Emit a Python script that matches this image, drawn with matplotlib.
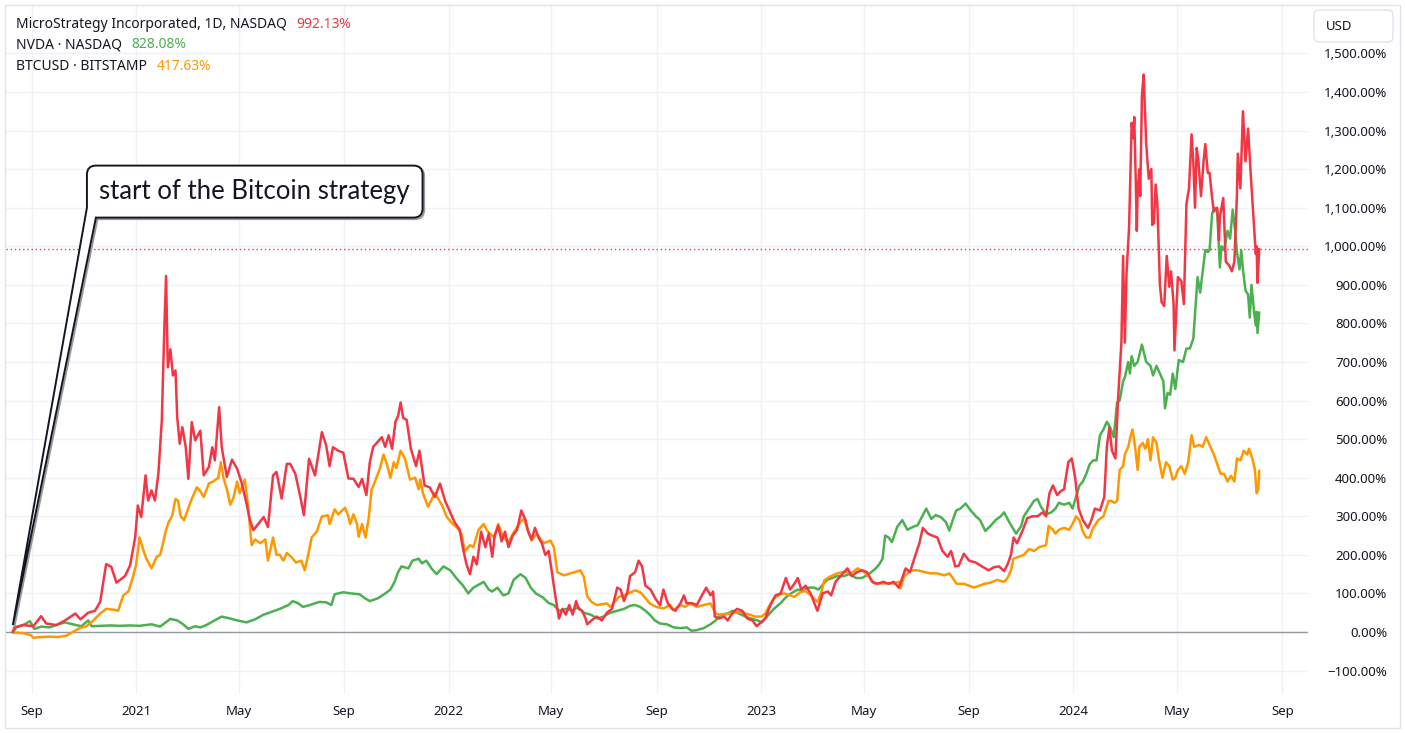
import matplotlib
matplotlib.use("Agg")
import matplotlib.pyplot as plt
import matplotlib.dates as mdates
from matplotlib.path import Path
from matplotlib.patches import PathPatch, FancyBboxPatch, Rectangle
from matplotlib.transforms import IdentityTransform
import pandas as pd

# ---- data (percent change since 2020-08-10) ----
mstr_dates = [
    "2020-08-10", "2020-08-12", "2020-08-22", "2020-09-03", "2020-09-12", "2020-09-18", "2020-09-30",
    "2020-10-10", "2020-10-22", "2020-10-28", "2020-11-06", "2020-11-14", "2020-11-20", "2020-11-27",
    "2020-12-03", "2020-12-09", "2020-12-19", "2020-12-25", "2020-12-31", "2021-01-03", "2021-01-07",
    "2021-01-12", "2021-01-15", "2021-01-19", "2021-01-23", "2021-01-27", "2021-01-31", "2021-02-03",
    "2021-02-05", "2021-02-07", "2021-02-10", "2021-02-13", "2021-02-16", "2021-02-18", "2021-02-21",
    "2021-02-24", "2021-02-28", "2021-03-03", "2021-03-07", "2021-03-11", "2021-03-17", "2021-03-21",
    "2021-03-27", "2021-03-31", "2021-04-03", "2021-04-08", "2021-04-11", "2021-04-17", "2021-04-23",
    "2021-04-29", "2021-05-04", "2021-05-10", "2021-05-14", "2021-05-18", "2021-05-24", "2021-05-30",
    "2021-06-04", "2021-06-10", "2021-06-14", "2021-06-20", "2021-06-26", "2021-06-30", "2021-07-06",
    "2021-07-11", "2021-07-16", "2021-07-22", "2021-07-29", "2021-08-06", "2021-08-11", "2021-08-15",
    "2021-08-19", "2021-08-25", "2021-08-31", "2021-09-06", "2021-09-12", "2021-09-18", "2021-09-22",
    "2021-09-27", "2021-10-01", "2021-10-05", "2021-10-09", "2021-10-15", "2021-10-19", "2021-10-23",
    "2021-10-27", "2021-10-31", "2021-11-03", "2021-11-06", "2021-11-09", "2021-11-13", "2021-11-18",
    "2021-11-24", "2021-11-28", "2021-12-04", "2021-12-10", "2021-12-16", "2021-12-22", "2021-12-28",
    "2022-01-03", "2022-01-08", "2022-01-14", "2022-01-18", "2022-01-22", "2022-01-26", "2022-01-30",
    "2022-02-03", "2022-02-08", "2022-02-13", "2022-02-17", "2022-02-21", "2022-02-24", "2022-02-28",
    "2022-03-04", "2022-03-08", "2022-03-12", "2022-03-17", "2022-03-22", "2022-03-27", "2022-04-01",
    "2022-04-04", "2022-04-08", "2022-04-12", "2022-04-16", "2022-04-20", "2022-04-24", "2022-04-28",
    "2022-05-02", "2022-05-06", "2022-05-10", "2022-05-14", "2022-05-18", "2022-05-22", "2022-05-26",
    "2022-05-30", "2022-06-02", "2022-06-06", "2022-06-10", "2022-06-12", "2022-06-17", "2022-06-23",
    "2022-06-29", "2022-07-05", "2022-07-11", "2022-07-17", "2022-07-21", "2022-07-25", "2022-07-29",
    "2022-08-01", "2022-08-07", "2022-08-11", "2022-08-15", "2022-08-19", "2022-08-25", "2022-08-31",
    "2022-09-05", "2022-09-09", "2022-09-14", "2022-09-19", "2022-09-23", "2022-09-29", "2022-10-03",
    "2022-10-06", "2022-10-12", "2022-10-18", "2022-10-24", "2022-10-29", "2022-11-03", "2022-11-06",
    "2022-11-08", "2022-11-13", "2022-11-19", "2022-11-23", "2022-11-29", "2022-12-04", "2022-12-10",
    "2022-12-16", "2022-12-22", "2022-12-27", "2023-01-01", "2023-01-06", "2023-01-12", "2023-01-18",
    "2023-01-24", "2023-01-30", "2023-02-04", "2023-02-09", "2023-02-13", "2023-02-17", "2023-02-22",
    "2023-02-28", "2023-03-06", "2023-03-08", "2023-03-14", "2023-03-20", "2023-03-24", "2023-03-29",
    "2023-04-04", "2023-04-12", "2023-04-17", "2023-04-23", "2023-04-29", "2023-05-05", "2023-05-11",
    "2023-05-17", "2023-05-24", "2023-05-30", "2023-06-05", "2023-06-11", "2023-06-15", "2023-06-19",
    "2023-06-24", "2023-06-29", "2023-07-05", "2023-07-09", "2023-07-15", "2023-07-20", "2023-07-26",
    "2023-08-01", "2023-08-07", "2023-08-11", "2023-08-16", "2023-08-20", "2023-08-26", "2023-09-01",
    "2023-09-09", "2023-09-16", "2023-09-24", "2023-09-30", "2023-10-06", "2023-10-12", "2023-10-16",
    "2023-10-20", "2023-10-23", "2023-10-27", "2023-11-03", "2023-11-08", "2023-11-14", "2023-11-20",
    "2023-11-26", "2023-11-30", "2023-12-04", "2023-12-08", "2023-12-13", "2023-12-17", "2023-12-21",
    "2023-12-26", "2023-12-30", "2024-01-03", "2024-01-07", "2024-01-12", "2024-01-18", "2024-01-22",
    "2024-01-26", "2024-02-01", "2024-02-06", "2024-02-09", "2024-02-12", "2024-02-15", "2024-02-19",
    "2024-02-22", "2024-02-26", "2024-02-28", "2024-03-01", "2024-03-03", "2024-03-06", "2024-03-09",
    "2024-03-11", "2024-03-12", "2024-03-14", "2024-03-15", "2024-03-16", "2024-03-18", "2024-03-19",
    "2024-03-21", "2024-03-23", "2024-03-26", "2024-03-29", "2024-04-01", "2024-04-02", "2024-04-04",
    "2024-04-06", "2024-04-08", "2024-04-11", "2024-04-13", "2024-04-16", "2024-04-19", "2024-04-22",
    "2024-04-24", "2024-04-27", "2024-04-28", "2024-05-02", "2024-05-06", "2024-05-09", "2024-05-12",
    "2024-05-15", "2024-05-18", "2024-05-20", "2024-05-22", "2024-05-24", "2024-05-26", "2024-05-29",
    "2024-06-01", "2024-06-03", "2024-06-06", "2024-06-08", "2024-06-11", "2024-06-13", "2024-06-17",
    "2024-06-19", "2024-06-20", "2024-06-24", "2024-06-27", "2024-07-01", "2024-07-04", "2024-07-07",
    "2024-07-10", "2024-07-11", "2024-07-14", "2024-07-17", "2024-07-20", "2024-07-23", "2024-07-26",
    "2024-07-30", "2024-08-01", "2024-08-02", "2024-08-03", "2024-08-05",
]
mstr_vals = [
    0, 12, 18, 15, 41, 22, 18,
    30, 48, 33, 50, 55, 78, 176,
    169, 128, 145, 173, 247, 328, 298,
    406, 341, 367, 341, 410, 548, 790,
    923, 686, 733, 665, 678, 557, 488,
    531, 479, 397, 544, 497, 522, 406,
    428, 479, 445, 583, 479, 402, 447,
    423, 389, 333, 290, 264, 281, 298,
    272, 406, 415, 346, 436, 436, 410,
    359, 303, 449, 406, 518, 484, 430,
    479, 470, 465, 398, 397, 376, 397,
    355, 440, 480, 490, 505, 480, 510,
    475, 545, 560, 595, 555, 550, 475,
    430, 470, 380, 375, 350, 385, 340,
    310, 285, 265, 215, 175, 150, 195,
    175, 260, 220, 255, 195, 250, 275,
    235, 260, 220, 250, 265, 315, 290,
    260, 240, 270, 245, 230, 200, 210,
    150, 90, 35, 60, 45, 70, 45,
    80, 60, 55, 35, 20, 30, 40,
    30, 50, 60, 115, 110, 80, 105,
    145, 155, 185, 170, 120, 110, 85,
    70, 110, 75, 60, 55, 75, 95,
    75, 75, 70, 95, 115, 95, 105,
    40, 35, 40, 30, 50, 60, 55,
    35, 30, 15, 25, 35, 70, 95,
    100, 140, 110, 125, 140, 110, 120,
    100, 65, 55, 100, 105, 95, 130,
    145, 165, 145, 155, 160, 155, 130,
    125, 130, 125, 130, 115, 140, 165,
    155, 190, 230, 270, 255, 250, 245,
    210, 195, 210, 170, 172, 203, 185,
    180, 170, 160, 168, 170, 158, 175,
    200, 245, 230, 265, 295, 300, 300,
    310, 300, 360, 380, 355, 365, 370,
    440, 450, 400, 320, 290, 270, 290,
    320, 315, 350, 480, 530, 470, 450,
    600, 750, 975, 750, 930, 1050, 1320,
    1280, 1335, 1150, 1040, 1140, 1200, 1130,
    1390, 1445, 1265, 1175, 1200, 1055, 1060,
    1160, 1110, 900, 855, 845, 975, 895,
    935, 850, 730, 920, 910, 850, 1110,
    1150, 1290, 1220, 1100, 1255, 1220, 1130,
    1220, 1265, 1190, 1190, 1125, 1090, 1100,
    1015, 1075, 1125, 960, 950, 935, 960,
    1135, 1240, 1150, 1350, 1220, 1305, 1190,
    1050, 980, 1000, 905, 992.13,
]

nvda_dates = [
    "2020-08-10", "2020-08-14", "2020-08-22", "2020-08-30", "2020-09-04", "2020-09-12", "2020-09-22",
    "2020-10-02", "2020-10-10", "2020-10-19", "2020-10-29", "2020-11-06", "2020-11-10", "2020-11-20",
    "2020-12-02", "2020-12-13", "2020-12-25", "2021-01-05", "2021-01-19", "2021-01-29", "2021-02-10",
    "2021-02-18", "2021-02-25", "2021-03-03", "2021-03-11", "2021-03-17", "2021-03-24", "2021-04-01",
    "2021-04-11", "2021-04-21", "2021-04-29", "2021-05-10", "2021-05-20", "2021-05-30", "2021-06-08",
    "2021-06-18", "2021-06-28", "2021-07-03", "2021-07-09", "2021-07-15", "2021-07-23", "2021-08-03",
    "2021-08-11", "2021-08-17", "2021-08-21", "2021-08-31", "2021-09-09", "2021-09-19", "2021-09-25",
    "2021-10-01", "2021-10-11", "2021-10-19", "2021-10-25", "2021-10-30", "2021-11-03", "2021-11-07",
    "2021-11-15", "2021-11-20", "2021-11-27", "2021-12-01", "2021-12-06", "2021-12-12", "2021-12-18",
    "2021-12-26", "2022-01-03", "2022-01-10", "2022-01-18", "2022-01-24", "2022-01-30", "2022-02-07",
    "2022-02-11", "2022-02-17", "2022-02-21", "2022-02-27", "2022-03-06", "2022-03-12", "2022-03-18",
    "2022-03-26", "2022-04-01", "2022-04-07", "2022-04-13", "2022-04-21", "2022-04-28", "2022-05-04",
    "2022-05-10", "2022-05-18", "2022-05-26", "2022-06-01", "2022-06-08", "2022-06-16", "2022-06-24",
    "2022-07-01", "2022-07-09", "2022-07-17", "2022-07-25", "2022-08-01", "2022-08-07", "2022-08-13",
    "2022-08-19", "2022-08-24", "2022-08-30", "2022-09-05", "2022-09-13", "2022-09-21", "2022-09-29",
    "2022-10-06", "2022-10-12", "2022-10-18", "2022-10-26", "2022-11-03", "2022-11-09", "2022-11-15",
    "2022-11-23", "2022-11-29", "2022-12-06", "2022-12-14", "2022-12-20", "2022-12-28", "2023-01-02",
    "2023-01-08", "2023-01-16", "2023-01-24", "2023-01-30", "2023-02-05", "2023-02-13", "2023-02-19",
    "2023-02-24", "2023-03-04", "2023-03-09", "2023-03-13", "2023-03-19", "2023-03-25", "2023-03-31",
    "2023-04-08", "2023-04-14", "2023-04-22", "2023-04-29", "2023-05-07", "2023-05-15", "2023-05-19",
    "2023-05-23", "2023-05-26", "2023-05-30", "2023-06-03", "2023-06-09", "2023-06-15", "2023-06-21",
    "2023-06-27", "2023-07-03", "2023-07-09", "2023-07-13", "2023-07-19", "2023-07-24", "2023-07-30",
    "2023-08-05", "2023-08-09", "2023-08-13", "2023-08-17", "2023-08-22", "2023-08-28", "2023-09-03",
    "2023-09-09", "2023-09-14", "2023-09-20", "2023-09-26", "2023-10-02", "2023-10-08", "2023-10-12",
    "2023-10-18", "2023-10-22", "2023-10-26", "2023-11-01", "2023-11-04", "2023-11-10", "2023-11-16",
    "2023-11-20", "2023-11-24", "2023-11-30", "2023-12-06", "2023-12-11", "2023-12-15", "2023-12-21",
    "2023-12-27", "2023-12-31", "2024-01-04", "2024-01-08", "2024-01-12", "2024-01-16", "2024-01-20",
    "2024-01-24", "2024-01-28", "2024-02-01", "2024-02-05", "2024-02-09", "2024-02-13", "2024-02-17",
    "2024-02-19", "2024-02-21", "2024-02-24", "2024-02-28", "2024-03-01", "2024-03-05", "2024-03-07",
    "2024-03-09", "2024-03-12", "2024-03-16", "2024-03-21", "2024-03-26", "2024-03-31", "2024-04-03",
    "2024-04-07", "2024-04-11", "2024-04-15", "2024-04-17", "2024-04-20", "2024-04-23", "2024-04-26",
    "2024-04-29", "2024-05-03", "2024-05-08", "2024-05-12", "2024-05-16", "2024-05-20", "2024-05-25",
    "2024-05-28", "2024-05-31", "2024-06-03", "2024-06-06", "2024-06-08", "2024-06-11", "2024-06-14",
    "2024-06-17", "2024-06-20", "2024-06-22", "2024-06-25", "2024-06-29", "2024-07-02", "2024-07-05",
    "2024-07-08", "2024-07-10", "2024-07-13", "2024-07-15", "2024-07-17", "2024-07-20", "2024-07-23",
    "2024-07-25", "2024-07-27", "2024-07-30", "2024-08-01", "2024-08-02", "2024-08-03", "2024-08-05",
]
nvda_vals = [
    0, 12, 18, 28, 8, 14, 12,
    20, 25, 20, 15, 30, 15, 16,
    17, 16, 17, 16, 20, 14, 34,
    30, 20, 8, 15, 12, 18, 28,
    40, 35, 30, 25, 33, 45, 52,
    60, 70, 80, 75, 65, 70, 78,
    77, 70, 98, 103, 100, 98, 88,
    80, 88, 100, 110, 130, 155, 170,
    165, 185, 190, 178, 185, 165, 150,
    170, 160, 140, 120, 100, 115, 125,
    130, 110, 105, 115, 95, 100, 135,
    150, 140, 115, 100, 90, 75, 70,
    55, 60, 55, 65, 50, 45, 35,
    40, 50, 55, 60, 68, 70, 65,
    55, 45, 30, 22, 20, 12, 10,
    12, 3, 5, 10, 20, 30, 45,
    48, 55, 48, 40, 35, 30, 25,
    40, 60, 75, 90, 100, 110, 105,
    115, 115, 110, 120, 135, 140, 145,
    145, 150, 140, 140, 150, 165, 175,
    190, 250, 245, 233, 272, 290, 265,
    272, 277, 303, 320, 293, 303, 298,
    285, 263, 290, 315, 320, 333, 315,
    300, 290, 262, 275, 290, 300, 310,
    285, 270, 255, 275, 300, 320, 340,
    345, 325, 305, 310, 320, 335, 330,
    335, 320, 350, 380, 390, 410, 435,
    445, 445, 510, 525, 545, 530, 505,
    550, 595, 600, 650, 660, 700, 670,
    715, 690, 700, 745, 700, 690, 665,
    690, 670, 650, 580, 620, 615, 670,
    630, 705, 700, 735, 735, 760, 920,
    880, 935, 990, 985, 990, 1085, 1100,
    1090, 945, 1000, 990, 1040, 1020, 1095,
    1040, 985, 940, 990, 940, 885, 875,
    815, 900, 830, 795, 830, 775, 828.08,
]

btc_dates = [
    "2020-08-10", "2020-08-14", "2020-08-22", "2020-08-31", "2020-09-03", "2020-09-12", "2020-09-22",
    "2020-10-02", "2020-10-11", "2020-10-19", "2020-10-27", "2020-11-04", "2020-11-12", "2020-11-20",
    "2020-11-27", "2020-12-05", "2020-12-11", "2020-12-17", "2020-12-23", "2020-12-28", "2021-01-01",
    "2021-01-05", "2021-01-09", "2021-01-13", "2021-01-19", "2021-01-25", "2021-01-29", "2021-02-02",
    "2021-02-05", "2021-02-08", "2021-02-12", "2021-02-16", "2021-02-19", "2021-02-22", "2021-02-26",
    "2021-03-02", "2021-03-07", "2021-03-13", "2021-03-17", "2021-03-21", "2021-03-27", "2021-04-01",
    "2021-04-07", "2021-04-10", "2021-04-13", "2021-04-17", "2021-04-21", "2021-04-25", "2021-04-29",
    "2021-05-02", "2021-05-08", "2021-05-12", "2021-05-16", "2021-05-20", "2021-05-26", "2021-06-01",
    "2021-06-04", "2021-06-10", "2021-06-14", "2021-06-18", "2021-06-22", "2021-06-26", "2021-07-01",
    "2021-07-07", "2021-07-13", "2021-07-17", "2021-07-21", "2021-07-25", "2021-07-31", "2021-08-06",
    "2021-08-09", "2021-08-13", "2021-08-15", "2021-08-21", "2021-08-25", "2021-09-02", "2021-09-06",
    "2021-09-08", "2021-09-12", "2021-09-16", "2021-09-18", "2021-09-22", "2021-09-26", "2021-09-30",
    "2021-10-03", "2021-10-07", "2021-10-13", "2021-10-17", "2021-10-21", "2021-10-25", "2021-10-29",
    "2021-11-01", "2021-11-06", "2021-11-11", "2021-11-17", "2021-11-23", "2021-11-27", "2021-11-29",
    "2021-12-02", "2021-12-08", "2021-12-16", "2021-12-24", "2021-12-30", "2022-01-06", "2022-01-12",
    "2022-01-16", "2022-01-20", "2022-01-26", "2022-01-30", "2022-02-05", "2022-02-11", "2022-02-15",
    "2022-02-23", "2022-02-28", "2022-03-06", "2022-03-12", "2022-03-18", "2022-03-26", "2022-03-30",
    "2022-04-08", "2022-04-14", "2022-04-22", "2022-04-30", "2022-05-04", "2022-05-08", "2022-05-16",
    "2022-05-28", "2022-06-04", "2022-06-08", "2022-06-12", "2022-06-17", "2022-06-23", "2022-07-05",
    "2022-07-09", "2022-07-19", "2022-07-25", "2022-08-01", "2022-08-07", "2022-08-13", "2022-08-19",
    "2022-08-24", "2022-09-01", "2022-09-09", "2022-09-17", "2022-09-21", "2022-09-29", "2022-10-04",
    "2022-10-10", "2022-10-18", "2022-10-26", "2022-11-03", "2022-11-09", "2022-11-15", "2022-11-26",
    "2022-12-08", "2022-12-20", "2022-12-25", "2023-01-02", "2023-01-06", "2023-01-10", "2023-01-16",
    "2023-01-22", "2023-01-28", "2023-02-03", "2023-02-09", "2023-02-14", "2023-02-20", "2023-02-28",
    "2023-03-08", "2023-03-12", "2023-03-16", "2023-03-22", "2023-03-31", "2023-04-08", "2023-04-16",
    "2023-04-24", "2023-05-01", "2023-05-07", "2023-05-13", "2023-05-24", "2023-06-05", "2023-06-11",
    "2023-06-13", "2023-06-17", "2023-06-25", "2023-07-03", "2023-07-10", "2023-07-18", "2023-07-26",
    "2023-08-03", "2023-08-09", "2023-08-13", "2023-08-17", "2023-08-19", "2023-08-26", "2023-09-01",
    "2023-09-07", "2023-09-13", "2023-09-19", "2023-09-26", "2023-10-04", "2023-10-12", "2023-10-16",
    "2023-10-20", "2023-10-23", "2023-10-29", "2023-11-04", "2023-11-10", "2023-11-16", "2023-11-22",
    "2023-11-30", "2023-12-03", "2023-12-08", "2023-12-11", "2023-12-15", "2023-12-21", "2023-12-27",
    "2023-12-31", "2024-01-04", "2024-01-08", "2024-01-12", "2024-01-16", "2024-01-20", "2024-01-24",
    "2024-01-30", "2024-02-05", "2024-02-11", "2024-02-14", "2024-02-18", "2024-02-21", "2024-02-24",
    "2024-02-28", "2024-03-01", "2024-03-05", "2024-03-08", "2024-03-10", "2024-03-13", "2024-03-16",
    "2024-03-18", "2024-03-22", "2024-03-25", "2024-03-28", "2024-03-31", "2024-04-03", "2024-04-07",
    "2024-04-10", "2024-04-14", "2024-04-18", "2024-04-22", "2024-04-26", "2024-04-29", "2024-05-02",
    "2024-05-06", "2024-05-10", "2024-05-14", "2024-05-18", "2024-05-21", "2024-05-27", "2024-05-31",
    "2024-06-04", "2024-06-08", "2024-06-13", "2024-06-17", "2024-06-21", "2024-06-25", "2024-06-29",
    "2024-07-03", "2024-07-07", "2024-07-10", "2024-07-14", "2024-07-18", "2024-07-22", "2024-07-24",
    "2024-07-28", "2024-07-31", "2024-08-02", "2024-08-04", "2024-08-05",
]
btc_vals = [
    0, -2, -3, -8, -15, -13, -12,
    -13, -10, 0, 10, 15, 30, 48,
    60, 58, 55, 95, 105, 140, 175,
    245, 215, 190, 165, 195, 200, 235,
    265, 285, 300, 345, 340, 300, 290,
    315, 345, 375, 365, 350, 385, 390,
    400, 440, 400, 370, 330, 350, 390,
    360, 395, 320, 225, 240, 230, 240,
    185, 245, 200, 200, 185, 205, 195,
    180, 185, 160, 200, 245, 260, 300,
    300, 303, 280, 318, 305, 322, 300,
    280, 305, 280, 247, 280, 245, 300,
    368, 390, 425, 460, 435, 400, 440,
    425, 470, 450, 395, 400, 370, 395,
    360, 325, 360, 330, 298, 280, 268,
    255, 210, 225, 220, 265, 280, 263,
    245, 280, 245, 233, 258, 285, 293,
    237, 255, 230, 237, 220, 155, 147,
    155, 160, 143, 92, 78, 70, 74,
    65, 91, 95, 102, 108, 103, 88,
    74, 65, 61, 70, 57, 70, 65,
    74, 65, 70, 74, 48, 44, 48,
    52, 44, 40, 40, 48, 65, 87,
    96, 100, 96, 91, 100, 108, 96,
    78, 100, 134, 143, 152, 156, 152,
    165, 156, 143, 126, 126, 126, 130,
    113, 143, 160, 160, 156, 152, 152,
    147, 152, 140, 126, 125, 125, 120,
    115, 120, 125, 128, 135, 130, 140,
    160, 190, 195, 200, 215, 210, 220,
    225, 275, 265, 255, 265, 270, 265,
    280, 300, 290, 260, 245, 245, 270,
    290, 300, 340, 340, 335, 340, 420,
    430, 460, 480, 510, 525, 480, 420,
    480, 490, 475, 500, 445, 505, 490,
    445, 400, 440, 430, 395, 400, 420,
    430, 410, 440, 510, 480, 485, 480,
    505, 485, 460, 435, 410, 410, 390,
    405, 390, 450, 445, 470, 460, 475,
    450, 420, 360, 370, 417.63,
]

series_names = ["MicroStrategy Incorporated, 1D, NASDAQ", "NVDA · NASDAQ", "BTCUSD · BITSTAMP"]
series_last = ["992.13%", "828.08%", "417.63%"]

tick_dates = ["2020-09-01", "2021-01-01", "2021-05-01", "2021-09-01", "2022-01-01", "2022-05-01",
              "2022-09-01", "2023-01-01", "2023-05-01", "2023-09-01", "2024-01-01", "2024-05-01",
              "2024-09-01"]
tick_labels = ["Sep", "2021", "May", "Sep", "2022", "May", "Sep", "2023", "May", "Sep", "2024", "May", "Sep"]
y_ticks = list(range(-100, 1600, 100))

note_text = "start of the Bitcoin strategy"

# ---- style ----
plt.rcParams['font.family'] = ['Noto Sans', 'DejaVu Sans']
RED, GREEN, ORANGE = "#f23645", "#4caf50", "#ff9800"
TXT = "#131722"
GRID = "#eff1f5"

W, H = 1405, 733
fig = plt.figure(figsize=(W / 100, H / 100), dpi=100)
fig.patch.set_facecolor("white")
ax = fig.add_axes([6 / W, 39 / H, 1302 / W, 690 / H])

ax.plot(pd.to_datetime(nvda_dates), nvda_vals, color=GREEN, lw=1.8, zorder=3)
ax.plot(pd.to_datetime(btc_dates), btc_vals, color=ORANGE, lw=1.8, zorder=4)
ax.plot(pd.to_datetime(mstr_dates), mstr_vals, color=RED, lw=1.8, zorder=5)

ax.axhline(0, color="#9598a1", lw=1, zorder=2)
ax.axhline(mstr_vals[-1], color=RED, lw=1, ls=(0, (1, 2)), zorder=2)

ax.set_xlim(pd.Timestamp("2020-08-02"), pd.Timestamp("2024-10-01"))
ax.set_ylim(-160.7, 1628)

ax.set_xticks(pd.to_datetime(tick_dates))
ax.set_xticklabels(tick_labels)
for lbl in ax.get_xticklabels():
    if lbl.get_text().isdigit():
        lbl.set_fontweight("bold")
ax.tick_params(axis="x", length=0, pad=8, labelsize=9.5, labelcolor=TXT)

ax.yaxis.tick_right()
ax.set_yticks(y_ticks)
ax.set_yticklabels([f"{v:,.2f}%".replace("-", "\u2212") for v in y_ticks], ha="right")
ax.tick_params(axis="y", length=0, pad=57, labelsize=9.5, labelcolor=TXT)

ax.grid(True, color=GRID, lw=1, zorder=0)
ax.set_axisbelow(True)
for s in ax.spines.values():
    s.set_visible(False)

# outer frame and USD box
fig.add_artist(Rectangle((5, 5), 1395, 723, transform=IdentityTransform(),
                         fill=False, edgecolor="#e0e3eb", lw=1))
fig.add_artist(FancyBboxPatch((1314, H - 42), 79, 32, boxstyle="round,pad=0,rounding_size=5",
                              transform=IdentityTransform(), facecolor="white",
                              edgecolor="#e0e3eb", lw=1))
fig.text(1326 / W, 1 - 26 / H, "USD", fontsize=9.5, color=TXT, va="center", ha="left")

# legend lines at top left
colors = [RED, GREEN, ORANGE]
for i, (name, last, c) in enumerate(zip(series_names, series_last, colors)):
    t = fig.text(16 / W, 1 - (24 + 21 * i) / H, name, fontsize=10, color=TXT, va="center", ha="left")
    ax.annotate(last, xy=(1, 0.5), xycoords=t, xytext=(7, 0), textcoords="offset points",
                fontsize=10, color=c, va="center", ha="left")

# callout
note = ax.text(pd.Timestamp("2021-05-19"), 1143, note_text, fontsize=18.5, family="Lato",
               color=TXT, ha="center", va="center", zorder=11)
fig.canvas.draw()
bb = note.get_window_extent()
L, R = bb.x0 - 12, bb.x1 + 13
B, T = bb.y0 - 14, bb.y1 + 13
r = 9
tip = ax.transData.transform((mdates.date2num(pd.Timestamp(mstr_dates[0])), 18))
verts = [(L, B + 10), (L, T - r), (L, T), (L + r, T), (R - r, T), (R, T), (R, T - r),
         (R, B + r), (R, B), (R - r, B), (L + 9, B), tuple(tip), (L, B + 10)]
codes = [Path.MOVETO, Path.LINETO, Path.CURVE3, Path.CURVE3, Path.LINETO, Path.CURVE3, Path.CURVE3,
         Path.LINETO, Path.CURVE3, Path.CURVE3, Path.LINETO, Path.LINETO, Path.CLOSEPOLY]
shadow = [(x + 1.5, y - 1.5) for x, y in verts]
fig.add_artist(PathPatch(Path(shadow, codes), transform=IdentityTransform(), facecolor="none",
                         edgecolor="#9a9a9a", lw=1.5, zorder=9))
fig.add_artist(PathPatch(Path(verts, codes), transform=IdentityTransform(), facecolor="white",
                         edgecolor=TXT, lw=1.4, zorder=10))
note.remove()
fig.text((bb.x0 + bb.x1) / 2 / W, (bb.y0 + bb.y1) / 2 / H, note_text, fontsize=18.5, family="Lato",
         color=TXT, ha="center", va="center", zorder=11)

fig.savefig("out.png", dpi=100, facecolor="white")
